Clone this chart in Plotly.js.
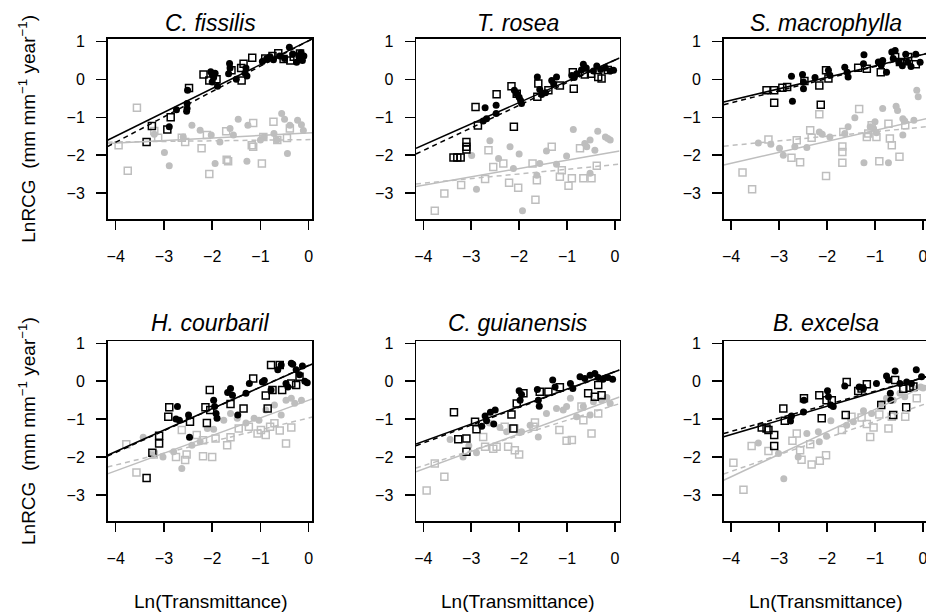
<!DOCTYPE html>
<html><head><meta charset="utf-8">
<script src="https://cdn.plot.ly/plotly-3.0.1.min.js"></script>
<style>html,body{margin:0;padding:0;background:#fff;overflow:hidden}#chart{width:932px;height:612px}</style>
</head><body><div id="chart"></div>
<script>
// ---------------- DATA ----------------
const species = ["C. fissilis","T. rosea","S. macrophylla","H. courbaril","C. guianensis","B. excelsa"];
const xTicks = [-4,-3,-2,-1,0];
const yTicks = [-3,-2,-1,0,1];
const xLabel = "Ln(Transmittance)";
const yLabel = "LnRCG  (mm mm<sup>\u22121</sup> year<sup>\u22121</sup>)";

// C. fissilis
const cfis_bc_x = [-2.51,-2.52,-2.52,-2.53,-2.74,-2.89,-2.03,-2.0,-1.97,-1.94,-2.0,-1.89,-1.64,-1.63,-1.66,-1.5,-1.3,-1.32,-1.28,-0.96,-0.87,-0.73,-0.6,-0.4,-0.33,-0.2,-0.13,-0.16,-0.1,-0.5,-0.8,-0.25];
const cfis_bc_y = [-0.29,-0.64,-0.77,-0.84,-0.80,-1.25,0.2,0.13,0.05,0.16,-0.07,-0.18,0.42,0.3,0.15,0.0,0.3,0.17,0.09,0.47,0.55,0.52,0.62,0.85,0.67,0.6,0.5,0.7,0.62,0.55,0.6,0.45];
const cfis_bs_x = [-2.48,-2.18,-2.06,-1.91,-1.6,-1.39,-1.35,-1.17,-1.4,-2.86,-2.93,-3.25,-3.36,-0.63,-0.52,-0.38,-0.31,-0.18,-0.9,-0.75];
const cfis_bs_y = [-0.23,0.13,-0.03,0.0,0.24,-0.03,0.41,0.57,0.3,-1.0,-1.32,-1.23,-1.65,0.69,0.54,0.5,0.6,0.68,0.55,0.62];
const cfis_gc_x = [-2.99,-2.89,-2.42,-2.25,-1.94,-2.02,-1.63,-1.46,-1.28,-1.26,-0.93,-0.56,-0.44,-0.23,-0.15,-0.11,-0.39,-1.84,-2.6,-1.0,-0.66,-0.72,-1.56,-3.2,-0.5];
const cfis_gc_y = [-1.93,-2.28,-1.21,-1.34,-2.22,-1.47,-1.3,-1.05,-2.16,-1.21,-1.52,-0.9,-1.96,-1.08,-1.2,-1.35,-1.21,-1.65,-1.52,-1.6,-1.6,-1.43,-1.47,-1.45,-1.05];
const cfis_gs_x = [-3.56,-3.75,-3.94,-3.2,-3.12,-2.63,-2.56,-2.22,-2.11,-2.06,-1.67,-1.71,-1.15,-1.18,-1.15,-0.97,-0.94,-0.73,-0.65,-0.39,-0.45,-1.7];
const cfis_gs_y = [-0.75,-2.41,-1.74,-1.36,-1.54,-1.54,-1.65,-1.82,-1.47,-2.5,-2.16,-1.37,-1.15,-1.74,-1.78,-2.22,-1.52,-1.12,-1.6,-1.3,-1.55,-2.12];

// T. rosea
const tros_bc_x = [-2.71,-2.48,-2.48,-2.68,-2.75,-2.1,-2.05,-2.0,-1.97,-1.95,-1.62,-1.57,-1.53,-1.32,-1.22,-1.28,-0.9,-0.85,-0.8,-0.66,-0.6,-0.45,-0.38,-0.3,-0.2,-0.1,-0.03,-0.7,-1.45];
const tros_bc_y = [-0.75,-0.68,-0.9,-1.04,-1.1,-0.29,-0.38,-0.47,-0.56,-0.64,0.06,-0.27,-0.4,-0.03,0.06,-0.12,0.1,0.05,0.15,0.4,0.3,0.22,0.35,0.26,0.3,0.22,0.24,0.25,-0.35];
const tros_bs_x = [-2.91,-2.47,-2.16,-2.05,-2.11,-2.86,-3.1,-3.1,-3.1,-3.37,-3.29,-3.22,-1.62,-1.39,-1.15,-0.86,-0.88,-0.63,-0.35,-0.28,-1.6,-0.5,-0.15];
const tros_bs_y = [-0.73,-0.39,-0.18,-0.38,-1.25,-1.22,-1.65,-1.78,-1.85,-2.06,-2.06,-2.06,-0.46,-0.29,-0.16,-0.25,0.19,0.13,0.06,0.02,-0.11,0.15,0.25];
const tros_gc_x = [-2.99,-2.89,-2.61,-2.43,-2.19,-2.0,-1.93,-2.12,-1.63,-1.57,-1.43,-1.22,-1.01,-0.87,-0.63,-0.59,-0.52,-0.42,-0.36,-0.2,-0.15,-0.1,-0.52];
const tros_gc_y = [-2.01,-2.9,-1.62,-2.09,-1.78,-1.97,-3.47,-2.35,-2.53,-2.22,-1.89,-2.24,-2.02,-1.32,-1.69,-1.78,-1.6,-1.87,-1.37,-1.52,-1.56,-1.6,-2.48];
const tros_gs_x = [-3.76,-3.56,-3.21,-2.71,-2.64,-2.54,-2.33,-2.21,-2.02,-1.72,-1.63,-1.66,-1.32,-1.15,-0.97,-0.9,-0.73,-0.66,-0.49,-0.38,-1.11];
const tros_gs_y = [-3.47,-3.01,-2.79,-2.63,-1.87,-2.31,-2.22,-2.73,-2.86,-2.22,-2.66,-3.18,-1.78,-2.57,-2.81,-2.61,-1.82,-2.61,-2.61,-2.28,-2.4];

// S. macrophylla
const smac_bc_x = [-2.74,-2.72,-2.51,-2.49,-2.49,-1.97,-1.94,-1.63,-1.56,-1.58,-1.23,-1.24,-0.93,-0.87,-0.84,-0.65,-0.62,-0.58,-0.5,-0.43,-0.36,-0.32,-0.25,-0.15,-0.06,-0.76,-2.25];
const smac_bc_y = [0.08,-0.58,0.13,-0.07,-0.25,0.24,0.11,0.32,0.06,0.19,0.65,0.41,0.46,0.37,0.5,0.72,0.55,0.76,0.45,0.36,0.66,0.45,0.34,0.66,0.45,0.19,0.05];
const smac_bs_x = [-3.26,-3.1,-3.1,-2.93,-2.83,-2.47,-2.16,-2.13,-2.02,-1.97,-1.35,-1.17,-0.88,-0.58,-0.48,-0.31,-0.15];
const smac_bs_y = [-0.29,-0.29,-0.62,-0.22,-0.2,-0.04,-0.16,-0.67,0.24,0.02,0.31,0.28,0.19,0.59,0.46,0.59,0.4];
const smac_gc_x = [-3.43,-3.17,-2.99,-2.91,-2.67,-2.42,-2.16,-2.1,-1.94,-1.63,-1.56,-1.42,-1.23,-1.1,-1.03,-1.0,-0.84,-0.72,-0.56,-0.53,-0.42,-0.38,-0.42,-0.19,-0.13,-0.1,-0.97];
const smac_gc_y = [-1.68,-1.71,-1.82,-2.0,-1.78,-1.8,-1.39,-1.45,-1.52,-1.43,-1.25,-1.01,-2.2,-1.25,-1.3,-1.12,-0.77,-2.2,-0.71,-0.82,-1.04,-1.1,-1.47,-1.08,-0.29,-0.46,-1.41];
const smac_gs_x = [-3.76,-3.56,-3.22,-2.74,-2.63,-2.56,-2.35,-2.16,-2.32,-2.02,-1.68,-1.68,-1.68,-1.66,-1.33,-1.17,-1.07,-0.97,-0.91,-0.72,-0.69,-0.65,-0.49,-0.37,-1.14];
const smac_gs_y = [-2.46,-2.9,-1.59,-2.07,-1.61,-2.19,-1.34,-0.92,-1.54,-2.55,-1.77,-1.92,-2.2,-1.39,-0.78,-1.52,-1.21,-1.52,-2.16,-1.17,-1.56,-1.74,-2.04,-1.21,-1.43];

// H. courbaril
const hcou_bc_x = [-2.72,-2.68,-2.49,-2.47,-1.97,-1.95,-1.92,-1.9,-1.62,-1.58,-1.47,-1.3,-1.23,-0.96,-0.92,-0.78,-0.64,-0.57,-0.47,-0.43,-0.36,-0.33,-0.26,-0.19,-0.13,-0.08,-0.03,-2.75,-1.68];
const hcou_bc_y = [-0.67,-1.03,-0.89,-1.48,-0.5,-0.67,-0.85,-0.98,-0.19,-0.37,-0.89,-0.32,-0.06,-0.02,0.02,-0.23,0.3,0.43,-0.06,-0.15,0.47,0.45,0.3,0.17,0.4,0.0,-0.04,-1.0,-0.3];
const hcou_bs_x = [-2.89,-2.91,-3.1,-3.1,-3.24,-3.36,-2.46,-2.05,-2.14,-2.11,-2.04,-1.62,-1.35,-1.15,-0.89,-0.85,-0.78,-0.75,-0.55,-0.36,-0.26,-0.19,-0.6];
const hcou_bs_y = [-0.69,-0.94,-1.44,-1.64,-1.89,-2.55,-1.07,-0.23,-0.69,-1.1,-0.76,-0.6,-0.72,0.07,-0.38,-0.72,0.43,-0.23,-0.23,-0.06,-0.1,0.12,0.43];
const hcou_gc_x = [-3.43,-3.23,-3.02,-2.63,-2.8,-2.42,-2.25,-1.97,-1.76,-1.62,-1.48,-1.13,-1.03,-0.89,-0.71,-0.57,-0.47,-0.36,-0.29,-0.15,-2.1,-1.3];
const hcou_gc_y = [-1.48,-1.95,-2.0,-2.3,-1.86,-1.69,-1.6,-1.27,-1.03,-0.85,-0.98,-0.98,-1.03,-0.76,-0.63,-0.89,-0.5,-0.45,-0.58,-0.5,-1.25,-1.1];
const hcou_gs_x = [-3.78,-3.57,-3.21,-2.75,-2.56,-2.53,-2.63,-2.32,-2.19,-2.0,-2.19,-1.93,-1.69,-1.62,-1.45,-1.24,-1.06,-0.99,-0.89,-0.71,-0.47,-0.36,-0.8,-0.6];
const hcou_gs_y = [-1.66,-2.41,-1.93,-2.0,-2.08,-1.93,-1.29,-1.42,-1.98,-2.0,-1.56,-1.51,-1.69,-1.48,-1.25,-1.2,-1.38,-1.29,-1.42,-1.11,-1.64,-1.22,-1.2,-1.3];

// C. guianensis
const cgui_bc_x = [-2.71,-2.68,-2.5,-2.53,-2.78,-2.0,-1.98,-1.62,-1.6,-1.58,-1.3,-1.25,-0.93,-0.88,-0.73,-0.63,-0.52,-0.42,-0.35,-0.25,-0.15,-0.05,-2.6,-1.95];
const cgui_bc_y = [-0.92,-1.04,-0.76,-1.13,-1.19,-0.25,-0.5,-0.22,-0.5,-0.66,0.03,-0.15,-0.06,-0.19,0.12,0.07,0.16,0.2,0.1,0.05,0.1,0.05,-0.82,-0.35];
const cgui_bs_x = [-3.36,-3.27,-3.1,-3.1,-2.92,-2.89,-2.16,-2.12,-2.05,-1.91,-1.57,-1.39,-1.15,-0.56,-0.42,-0.28,-0.35];
const cgui_bs_y = [-0.82,-1.53,-1.51,-1.86,-1.07,-1.27,-0.88,-1.25,-0.59,-0.32,-0.28,-0.28,-0.16,-0.32,-0.41,-0.37,-0.1];
const cgui_gc_x = [-3.44,-3.17,-2.89,-2.4,-2.26,-1.95,-1.77,-1.6,-1.43,-1.22,-1.08,-1.01,-0.93,-0.8,-0.66,-0.52,-0.45,-0.28,-0.17,-0.1,-2.62,-3.05,-2.0];
const cgui_gc_y = [-1.54,-2.0,-1.89,-1.22,-1.33,-1.33,-1.16,-1.47,-0.85,-0.72,-0.76,-0.67,-0.45,-0.94,-0.67,-0.89,-0.54,-0.5,-0.43,-0.59,-1.1,-1.7,-1.35];
const cgui_gs_x = [-3.93,-3.56,-3.76,-2.71,-2.54,-2.47,-2.75,-2.23,-2.09,-2.0,-1.7,-1.67,-1.16,-1.01,-0.9,-0.7,-0.66,-0.49,-0.35,-2.3,-2.1];
const cgui_gs_y = [-2.88,-2.52,-2.17,-1.73,-1.78,-1.73,-1.47,-1.73,-1.82,-1.93,-1.2,-1.09,-1.29,-1.57,-1.55,-0.67,-1.03,-1.38,-0.85,-1.2,-1.25];

// B. excelsa
const bexc_bc_x = [-2.74,-2.49,-2.48,-1.99,-1.97,-1.92,-1.87,-1.63,-1.33,-1.24,-0.97,-0.76,-0.72,-0.58,-0.48,-0.34,-0.24,-0.14,-0.03,-0.67,-0.68,-2.76];
const bexc_bc_y = [-0.92,-0.81,-0.5,-0.25,-0.41,-0.63,-0.67,-0.13,-0.15,-0.19,-0.06,0.14,0.03,0.27,-0.06,-0.02,-0.06,0.3,0.12,-0.5,-0.32,-1.05];
const bexc_bs_x = [-3.36,-3.26,-3.22,-3.1,-3.1,-2.91,-2.88,-2.48,-2.16,-2.11,-2.01,-1.9,-1.59,-1.61,-1.35,-1.28,-1.17,-0.87,-0.62,-0.58,-0.35,-0.41,-0.28,-0.2];
const bexc_bs_y = [-1.22,-1.25,-1.29,-1.42,-1.71,-0.72,-1.04,-0.45,-0.37,-0.98,-0.5,-0.5,-0.02,-0.89,-0.26,-0.19,-0.08,-0.63,-0.89,0.03,-0.69,-0.2,-0.17,-0.14];
const bexc_gc_x = [-3.43,-3.01,-2.9,-2.42,-2.6,-2.18,-2.16,-2.01,-1.92,-1.59,-1.45,-1.24,-1.07,-0.86,-0.76,-0.62,-0.48,-0.38,-0.17,-0.05,0.0];
const bexc_gc_y = [-1.63,-1.91,-2.57,-1.38,-2.0,-1.33,-1.6,-1.45,-1.04,-1.16,-1.07,-0.78,-0.85,-0.59,-0.45,-0.5,-0.32,-0.41,-0.2,-0.15,-0.18];
const bexc_gs_x = [-3.95,-3.74,-3.57,-3.22,-2.72,-2.63,-2.56,-2.53,-2.35,-2.32,-2.15,-2.02,-1.69,-1.49,-1.28,-1.17,-1.1,-1.03,-0.91,-0.72,-0.65,-0.37,-0.13];
const bexc_gs_y = [-2.15,-2.86,-1.71,-1.84,-1.57,-1.38,-1.82,-2.07,-1.66,-2.2,-2.1,-1.95,-1.29,-0.94,-0.96,-1.13,-1.47,-1.22,-0.88,-1.25,-0.94,-0.94,-0.45];

// regression fits [intercept, slope] per species (order as species)
const fitBlackSolid = [[1.02,0.63],[0.51,0.561],[0.66,0.303],[0.41,0.567],[0.25,0.46],[0.09,0.375]];
const fitBlackDash  = [[1.02,0.67],[0.51,0.597],[0.66,0.32],[0.42,0.575],[0.25,0.47],[0.09,0.354]];
const fitGraySolid  = [[-1.415,0.066],[-1.91,0.221],[-1.06,0.289],[-0.5,0.466],[-0.46,0.465],[-0.15,0.593]];
const fitGrayDash   = [[-1.59,0.016],[-2.25,0.123],[-1.26,0.121],[-0.97,0.31],[-0.63,0.40],[-0.62,0.44]];

const panelData = [
  [cfis_bc_x,cfis_bc_y,cfis_bs_x,cfis_bs_y,cfis_gc_x,cfis_gc_y,cfis_gs_x,cfis_gs_y],
  [tros_bc_x,tros_bc_y,tros_bs_x,tros_bs_y,tros_gc_x,tros_gc_y,tros_gs_x,tros_gs_y],
  [smac_bc_x,smac_bc_y,smac_bs_x,smac_bs_y,smac_gc_x,smac_gc_y,smac_gs_x,smac_gs_y],
  [hcou_bc_x,hcou_bc_y,hcou_bs_x,hcou_bs_y,hcou_gc_x,hcou_gc_y,hcou_gs_x,hcou_gs_y],
  [cgui_bc_x,cgui_bc_y,cgui_bs_x,cgui_bs_y,cgui_gc_x,cgui_gc_y,cgui_gs_x,cgui_gs_y],
  [bexc_bc_x,bexc_bc_y,bexc_bs_x,bexc_bs_y,bexc_gc_x,bexc_gc_y,bexc_gs_x,bexc_gs_y]
];

// ---------------- LAYOUT GEOMETRY ----------------
// drawn slightly wider than the 926px window so the right panel's box edge
// falls just off-screen, as in the reference
const W = 932, H = 612;
const colPx = [[107.5,312.3],[416,619.5],[723.7,927.8]];
const colCenter = [210, 517.7, 825.7];
const xRanges = [[-4.17,0.075],[-4.152,0.094],[-4.152,0.1]];
const rowPx = [[38.5,219],[341,521]];
const yRanges = [[-3.686,1.079],[-3.687,1.06]];
const titleY = [23, 323];
const xLabY = 601;

const FONT = "Liberation Sans, Arial, Helvetica, sans-serif";
const BLACK = "#000000", GRAY = "#bebebe";

const traces = [];
const layout = {
  width: W, height: H, margin: {l:0,r:0,t:0,b:0},
  paper_bgcolor: "#fff", plot_bgcolor: "#fff",
  showlegend: false, font: {family: FONT, color: "#000"},
  annotations: []
};

for (let i = 0; i < 6; i++) {
  const r = Math.floor(i/3), c = i % 3;
  const sfx = i === 0 ? "" : String(i+1);
  const xa = "x"+sfx, ya = "y"+sfx;
  const d = panelData[i];
  layout["xaxis"+sfx] = {
    domain: [colPx[c][0]/W, colPx[c][1]/W], range: xRanges[c], anchor: ya,
    tickmode: "array", tickvals: xTicks, showline: true, mirror: true,
    linecolor: BLACK, linewidth: 1.5, ticks: "outside", ticklen: 9, tickwidth: 1.5,
    tickcolor: BLACK, showgrid: false, zeroline: false,
    tickfont: {family: FONT, size: 16, color: "#000"}, ticklabelstandoff: 13,
    ticklabeloverflow: "allow"
  };
  layout["yaxis"+sfx] = {
    domain: [1 - rowPx[r][1]/H, 1 - rowPx[r][0]/H], range: yRanges[r], anchor: xa,
    tickmode: "array", tickvals: yTicks, showline: true, mirror: true,
    linecolor: BLACK, linewidth: 1.5, ticks: "outside", ticklen: 10, tickwidth: 1.5,
    tickcolor: BLACK, showgrid: false, zeroline: false,
    tickfont: {family: FONT, size: 16, color: "#000"}, ticklabelstandoff: 8
  };
  traces.push({type:"scatter", mode:"markers", x:d[4], y:d[5], xaxis:xa, yaxis:ya,
    marker:{symbol:"circle", size:7, color:GRAY, line:{width:0}}, hoverinfo:"skip"});
  traces.push({type:"scatter", mode:"markers", x:d[6], y:d[7], xaxis:xa, yaxis:ya,
    marker:{symbol:"square-open", size:7, color:GRAY, line:{width:1.5, color:GRAY}}, hoverinfo:"skip"});
  traces.push({type:"scatter", mode:"markers", x:d[0], y:d[1], xaxis:xa, yaxis:ya,
    marker:{symbol:"circle", size:7, color:BLACK, line:{width:0}}, hoverinfo:"skip"});
  traces.push({type:"scatter", mode:"markers", x:d[2], y:d[3], xaxis:xa, yaxis:ya,
    marker:{symbol:"square-open", size:7, color:BLACK, line:{width:1.5, color:BLACK}}, hoverinfo:"skip"});
  const xr = xRanges[c];
  const addLine = (fit, color, dash) => {
    traces.push({type:"scatter", mode:"lines", x:[xr[0], xr[1]],
      y:[fit[0] + fit[1]*xr[0], fit[0] + fit[1]*xr[1]], xaxis:xa, yaxis:ya,
      line:{color:color, width:1.5, dash:dash}, hoverinfo:"skip"});
  };
  addLine(fitGraySolid[i], GRAY, "solid");
  addLine(fitGrayDash[i], GRAY, "5px,4px");
  addLine(fitBlackSolid[i], BLACK, "solid");
  addLine(fitBlackDash[i], BLACK, "5px,4px");

  layout.annotations.push({text: "<i>"+species[i]+"</i>", xref:"paper", yref:"paper",
    x: colCenter[c]/W, y: 1 - titleY[r]/H, xanchor:"center", yanchor:"middle",
    showarrow:false, font:{family:FONT, size:23, color:"#000"}});
  if (r === 1) {
    layout.annotations.push({text: xLabel, xref:"paper", yref:"paper",
      x: colCenter[c]/W, y: 1 - xLabY/H, xanchor:"center", yanchor:"middle",
      showarrow:false, font:{family:FONT, size:19, color:"#000"}});
  }
}
for (let r = 0; r < 2; r++) {
  layout.annotations.push({text: yLabel, xref:"paper", yref:"paper",
    x: 27/W, y: 1 - ((rowPx[r][0]+rowPx[r][1])/2)/H, xanchor:"center", yanchor:"middle",
    textangle:-90, showarrow:false, font:{family:FONT, size:19, color:"#000"}});
}

Plotly.newPlot("chart", traces, layout, {staticPlot:true, displayModeBar:false});
</script>
</body></html>
